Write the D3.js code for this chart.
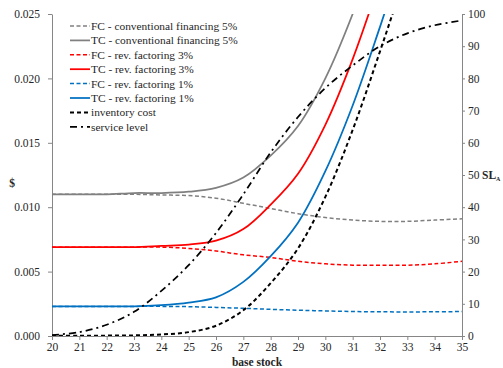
<!DOCTYPE html>
<html>
<head>
<meta charset="utf-8">
<script src="https://cdn.jsdelivr.net/npm/d3@7"></script>
<style>
  body { margin: 0; background: #fff; }
  text { font-family: "Liberation Serif", serif; fill: #262626; }
  .axis path, .axis line { stroke: #868686; }
  .axis text { font-size: 11.5px; fill: #262626; }
  .label { font-size: 11.5px; font-weight: bold; }
  .legend text { font-size: 11.4px; }
</style>
</head>
<body>
<script>
// base stock levels
var baseStock = [20, 21, 22, 23, 24, 25, 26, 27, 28, 29, 30, 31, 32, 33, 34, 35];

// $ values
var fcConv5 = [0.0110, 0.0110, 0.0110, 0.0110, 0.01095, 0.0109, 0.0107, 0.0103, 0.0099, 0.0095, 0.0092, 0.0090, 0.0089, 0.0089, 0.0090, 0.0091];
var tcConv5 = [0.0110, 0.0110, 0.0110, 0.0111, 0.0111, 0.0112, 0.0115, 0.0123, 0.0140, 0.0163, 0.0200, 0.0250, 0.0310, 0.0374, 0.0440, 0.0506];
var fcRev3 = [0.0069, 0.0069, 0.0069, 0.0069, 0.0069, 0.0068, 0.0066, 0.0063, 0.0061, 0.0058, 0.0056, 0.0055, 0.0055, 0.0055, 0.0056, 0.0058];
var tcRev3 = [0.0069, 0.0069, 0.0069, 0.0069, 0.0070, 0.0071, 0.0074, 0.0083, 0.0102, 0.0126, 0.0164, 0.0215, 0.0276, 0.0340, 0.0406, 0.0473];
var fcRev1 = [0.0023, 0.0023, 0.0023, 0.0023, 0.0023, 0.00228, 0.00222, 0.00215, 0.00207, 0.0020, 0.00195, 0.0019, 0.00188, 0.00187, 0.00188, 0.0019];
var tcRev1 = [0.0023, 0.0023, 0.0023, 0.0023, 0.0024, 0.0026, 0.0030, 0.0042, 0.0062, 0.0088, 0.0128, 0.0179, 0.0240, 0.0304, 0.0369, 0.0434];
var invCost = [0.00001, 0.00002, 0.00003, 0.00005, 0.00012, 0.0003, 0.0008, 0.0020, 0.0041, 0.0068, 0.0108, 0.0160, 0.0221, 0.0285, 0.0350, 0.0415];

// service level (right axis, %)
var serviceLevel = [0.3, 1.2, 3.5, 7.5, 14, 22, 32, 44, 57, 68, 77, 84, 90, 94, 96.5, 98];

var leftTicks = [0, 0.005, 0.010, 0.015, 0.020, 0.025];
var rightTicks = [0, 10, 20, 30, 40, 50, 60, 70, 80, 90, 100];

var margin = {top: 14, right: 41, bottom: 32, left: 52};
var width = 503 - margin.left - margin.right;
var height = 368 - margin.top - margin.bottom;

var svg = d3.select('body')
	.append('svg')
	.attr('width', 503)
	.attr('height', 368)
.append('g')
	.attr('transform', 'translate(' + margin.left + ',' + margin.top + ')');

// scales
var xScale = d3.scaleLinear().domain([20, 35]).range([0, width]);
var yScale = d3.scaleLinear().domain([0, 0.025]).range([height, 0]);
var y2Scale = d3.scaleLinear().domain([0, 100]).range([height, 0]);

// axes
svg.append('g')
	.attr('class', 'x axis')
	.attr('transform', 'translate(0,' + height + ')')
	.call(d3.axisBottom(xScale).tickValues(baseStock).tickSize(4).tickSizeOuter(0).tickPadding(3));

svg.append('g')
	.attr('class', 'y axis')
	.call(d3.axisLeft(yScale).tickValues(leftTicks).tickFormat(d3.format('.3f')).tickSize(4).tickSizeOuter(0).tickPadding(8));

svg.append('g')
	.attr('class', 'y2 axis')
	.attr('transform', 'translate(' + width + ',0)')
	.call(d3.axisRight(y2Scale).tickValues(rightTicks).tickSize(3).tickSizeOuter(0).tickPadding(3));

// clip the cost curves at the top of the plot
svg.append('clipPath')
	.attr('id', 'plotclip')
	.append('rect')
	.attr('x', 0).attr('y', 0)
	.attr('width', width).attr('height', height);

var series = [
	{name: 'FC - conventional financing 5%', values: fcConv5, color: '#808080', dash: '4,2.5', w: 1.5, right: false},
	{name: 'TC - conventional financing 5%', values: tcConv5, color: '#808080', dash: null, w: 1.75, right: false},
	{name: 'FC - rev. factoring 3%', values: fcRev3, color: '#ff0000', dash: '4,2.5', w: 1.5, right: false},
	{name: 'TC - rev. factoring 3%', values: tcRev3, color: '#ff0000', dash: null, w: 1.75, right: false},
	{name: 'FC - rev. factoring 1%', values: fcRev1, color: '#0070c0', dash: '4,2.5', w: 1.5, right: false},
	{name: 'TC - rev. factoring 1%', values: tcRev1, color: '#0070c0', dash: null, w: 1.75, right: false},
	{name: 'inventory cost', values: invCost, color: '#000000', dash: '4,3', w: 2, right: false},
	{name: 'service level', values: serviceLevel, color: '#000000', dash: '7,4,2,4', w: 1.75, right: true}
];

var lineLeft = d3.line()
	.x(function(d, i){ return xScale(baseStock[i]); })
	.y(function(d){ return yScale(d); })
	.curve(d3.curveCatmullRom.alpha(0.5));

var lineRight = d3.line()
	.x(function(d, i){ return xScale(baseStock[i]); })
	.y(function(d){ return y2Scale(d); })
	.curve(d3.curveCatmullRom.alpha(0.5));

svg.append('g')
	.attr('clip-path', 'url(#plotclip)')
	.selectAll('path')
	.data(series)
	.enter().append('path')
	.attr('fill', 'none')
	.attr('stroke', function(d){ return d.color; })
	.attr('stroke-width', function(d){ return d.w; })
	.attr('stroke-dasharray', function(d){ return d.dash; })
	.attr('d', function(d){ return d.right ? lineRight(d.values) : lineLeft(d.values); });

// axis labels
svg.append('text')
	.attr('class', 'label')
	.attr('x', -margin.left + 12)
	.attr('y', 173)
	.attr('text-anchor', 'middle')
	.text('$');

var sl = svg.append('text')
	.attr('class', 'label')
	.attr('font-size', '10.5px')
	.attr('x', width + 20)
	.attr('y', y2Scale(50) + 4);
sl.append('tspan').text('SL');
sl.append('tspan').attr('font-size', '6px').attr('dy', 2).text('A');

svg.append('text')
	.attr('class', 'label')
	.attr('x', width / 2)
	.attr('y', height + 30)
	.attr('text-anchor', 'middle')
	.text('base stock');

// legend
var legend = svg.selectAll('.legend')
	.data(series)
	.enter().append('g')
	.attr('class', 'legend')
	.attr('transform', function(d, i){ return 'translate(18,' + (12 + i * 14.4) + ')'; });

legend.append('line')
	.attr('x1', 0).attr('x2', 20)
	.attr('y1', 0).attr('y2', 0)
	.attr('stroke', function(d){ return d.color; })
	.attr('stroke-width', function(d){ return d.w; })
	.attr('stroke-dasharray', function(d){ return d.dash; });

legend.append('text')
	.attr('x', 21)
	.attr('y', 4)
	.text(function(d){ return d.name; });
</script>
</body>
</html>
